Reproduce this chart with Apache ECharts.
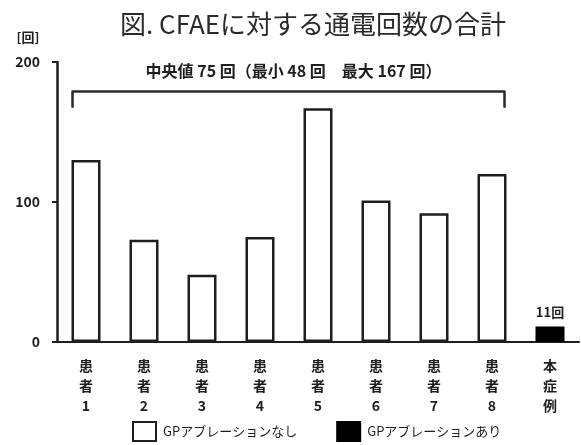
<!DOCTYPE html>
<html>
<head>
<meta charset="utf-8">
<script src="https://cdn.jsdelivr.net/npm/echarts@6/dist/echarts.min.js"></script>
<style>
  html, body { margin: 0; padding: 0; background: #fff; }
  #chart { width: 581px; height: 445px; }
</style>
</head>
<body>
<div id="chart"></div>
<script>
// Categories: patients 1-8 and the present case
const categories = ['患\n者\n1', '患\n者\n2', '患\n者\n3', '患\n者\n4', '患\n者\n5', '患\n者\n6', '患\n者\n7', '患\n者\n8', '本\n症\n例'];
// Total ablation count per patient (without GP ablation)
const withoutGP = [130, 73, 48, 75, 167, 101, 92, 120, null];
// Present case (with GP ablation)
const withGP = [null, null, null, null, null, null, null, null, 11];
const seriesNames = ['GPアブレーションなし', 'GPアブレーションあり'];
const yTicks = { min: 0, max: 200, interval: 100 };
const titleText = '図. CFAEに対する通電回数の合計';
const summaryText = '中央値 75 回（最小 48 回　最大 167 回）';
const unitText = '[回]';

const FONT = '"Noto Sans CJK JP", "Noto Sans", sans-serif';
const INK = '#1e1e1e';

const chart = echarts.init(document.getElementById('chart'));

const option = {
  backgroundColor: '#fff',
  animation: false,
  textStyle: { fontFamily: FONT },
  title: {
    text: titleText,
    left: 308,
    textAlign: 'center',
    top: 6,
    textStyle: { fontFamily: FONT, fontSize: 26, fontWeight: 'normal', color: '#2a2a2a' }
  },
  grid: { left: 57, right: 2, top: 62, bottom: 103, containLabel: false },
  legend: {
    left: 127,
    top: 416,
    itemWidth: 23,
    itemHeight: 19,
    itemGap: 39,
    icon: 'rect',
    textStyle: { fontFamily: FONT, fontSize: 13, color: INK, padding: [0, 0, 0, 2] },
    data: seriesNames
  },
  xAxis: {
    type: 'category',
    data: categories,
    axisLine: { lineStyle: { color: INK, width: 2 } },
    axisTick: { show: false },
    axisLabel: {
      interval: 0,
      margin: 14,
      fontFamily: FONT,
      fontSize: 14,
      fontWeight: 'bold',
      lineHeight: 20,
      color: INK
    }
  },
  yAxis: {
    type: 'value',
    min: yTicks.min,
    max: yTicks.max,
    interval: yTicks.interval,
    splitLine: { show: false },
    axisLine: { show: true, lineStyle: { color: INK, width: 2.5 } },
    axisTick: { show: true, length: 5, lineStyle: { color: INK, width: 2 } },
    axisLabel: { margin: 17, fontFamily: FONT, fontSize: 14, fontWeight: 'bold', color: INK }
  },
  series: [
    {
      name: seriesNames[0],
      type: 'bar',
      data: withoutGP,
      barWidth: 29,
      barGap: '-100%',
      itemStyle: { color: '#fff', borderColor: INK, borderWidth: 2.5 }
    },
    {
      name: seriesNames[1],
      type: 'bar',
      data: withGP,
      barWidth: 29,
      itemStyle: { color: '#000', borderColor: '#000', borderWidth: 2.5 },
      label: {
        show: true,
        position: 'top',
        distance: 8,
        formatter: '{c}回',
        fontFamily: FONT,
        fontSize: 13,
        fontWeight: 'bold',
        color: INK
      }
    }
  ]
};

chart.setOption(option);

// Bracket spanning patients 1-8 with the summary text above it
function drawBracket() {
  const first = chart.convertToPixel({ xAxisIndex: 0 }, 0);
  const last = chart.convertToPixel({ xAxisIndex: 0 }, 7);
  const yTop = chart.convertToPixel({ yAxisIndex: 0 }, 179);
  const yEnd = chart.convertToPixel({ yAxisIndex: 0 }, 168);
  const x1 = first - 13.5;
  const x2 = last + 12.5;
  chart.setOption({
    graphic: [
      {
        type: 'polyline',
        shape: { points: [[x1, yEnd], [x1, yTop], [x2, yTop], [x2, yEnd]] },
        style: { fill: null, stroke: '#2a2a2a', lineWidth: 2.5, lineJoin: 'round', lineCap: 'round' }
      },
      {
        type: 'text',
        x: (x1 + x2) / 2 + 5,
        y: yTop - 20,
        style: {
          text: summaryText,
          fontFamily: FONT,
          fontSize: 16,
          fontWeight: 'bold',
          fill: INK,
          align: 'center',
          verticalAlign: 'middle'
        }
      },
      {
        type: 'text',
        x: 28,
        y: 37,
        style: {
          text: unitText,
          fontFamily: FONT,
          fontSize: 13,
          fontWeight: 'bold',
          fill: INK,
          align: 'center',
          verticalAlign: 'middle'
        }
      }
    ]
  });
}
drawBracket();
</script>
</body>
</html>
